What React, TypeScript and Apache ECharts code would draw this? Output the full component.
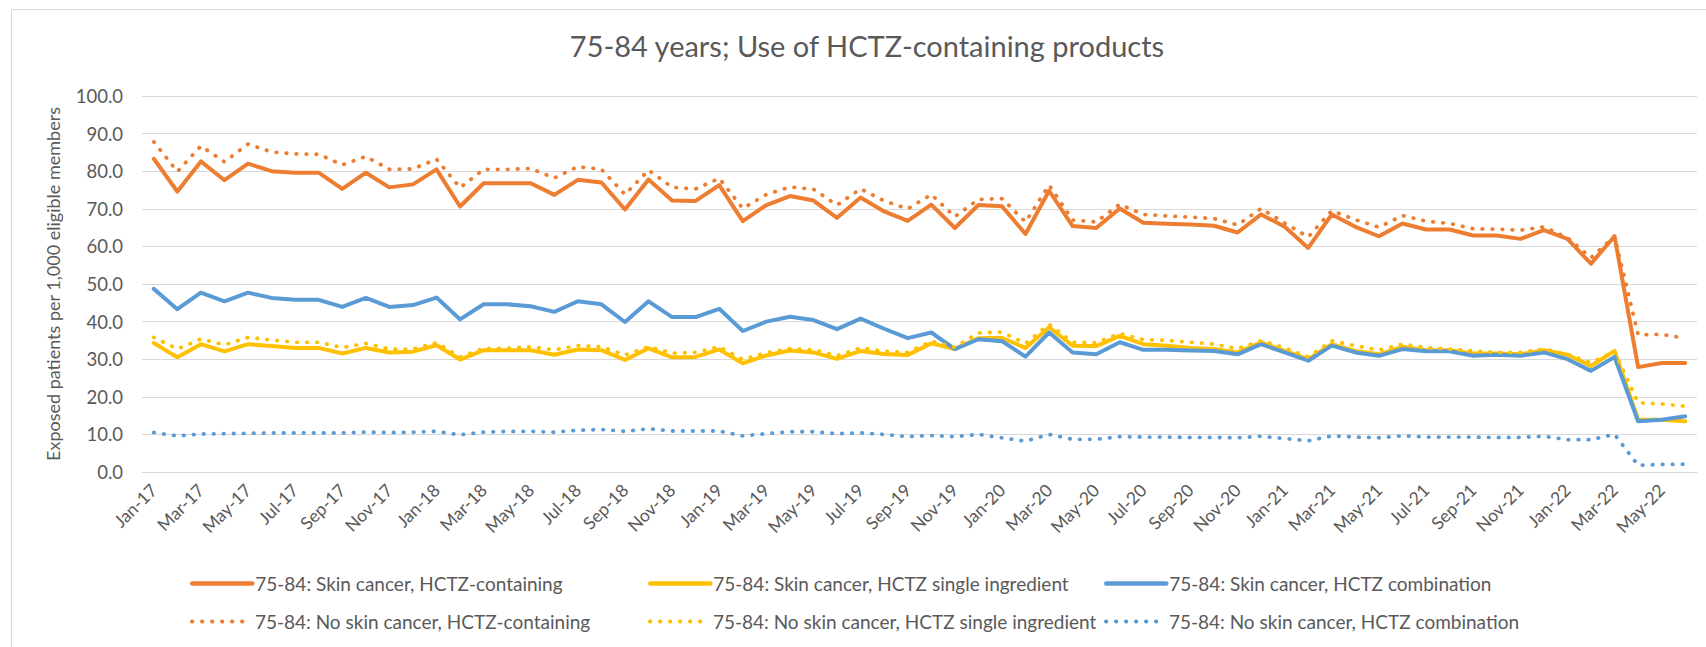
import React, { useEffect, useRef } from "react";
import * as echarts from "echarts";

const months = [
  "Jan-17", "Feb-17", "Mar-17", "Apr-17", "May-17", "Jun-17", "Jul-17", "Aug-17", "Sep-17", "Oct-17", "Nov-17", "Dec-17",
  "Jan-18", "Feb-18", "Mar-18", "Apr-18", "May-18", "Jun-18", "Jul-18", "Aug-18", "Sep-18", "Oct-18", "Nov-18", "Dec-18",
  "Jan-19", "Feb-19", "Mar-19", "Apr-19", "May-19", "Jun-19", "Jul-19", "Aug-19", "Sep-19", "Oct-19", "Nov-19", "Dec-19",
  "Jan-20", "Feb-20", "Mar-20", "Apr-20", "May-20", "Jun-20", "Jul-20", "Aug-20", "Sep-20", "Oct-20", "Nov-20", "Dec-20",
  "Jan-21", "Feb-21", "Mar-21", "Apr-21", "May-21", "Jun-21", "Jul-21", "Aug-21", "Sep-21", "Oct-21", "Nov-21", "Dec-21",
  "Jan-22", "Feb-22", "Mar-22", "Apr-22", "May-22", "Jun-22",
];

const skinContaining = [
  83.3, 74.6, 82.6, 77.6, 82.0, 80.0, 79.6, 79.6, 75.3, 79.6,
  75.7, 76.5, 80.5, 70.6, 76.8, 76.8, 76.8, 73.7, 77.7, 77.0,
  69.8, 77.8, 72.2, 72.1, 76.3, 66.7, 71.0, 73.4, 72.2, 67.6,
  73.0, 69.3, 66.8, 71.1, 64.9, 71.0, 70.7, 63.3, 74.8, 65.4,
  64.9, 70.1, 66.3, 66.0, 65.8, 65.5, 63.7, 68.5, 65.2, 59.6,
  68.5, 65.2, 62.7, 66.1, 64.5, 64.5, 62.9, 62.9, 62.0, 64.3,
  62.0, 55.4, 62.7, 27.9, 29.0, 29.0,
];

const skinSingle = [
  34.3, 30.5, 34.0, 32.1, 34.0, 33.5, 33.0, 33.0, 31.5, 33.0,
  31.8, 32.0, 33.7, 29.9, 32.4, 32.4, 32.4, 31.2, 32.6, 32.4,
  29.8, 32.9, 30.5, 30.6, 32.6, 28.9, 31.0, 32.3, 31.8, 30.1,
  32.2, 31.4, 31.1, 34.2, 32.7, 35.6, 35.7, 33.0, 38.5, 33.6,
  33.5, 36.2, 34.0, 33.6, 33.0, 32.7, 31.8, 34.5, 32.2, 30.0,
  34.0, 32.2, 31.3, 33.3, 32.4, 32.4, 31.5, 31.5, 31.3, 32.4,
  31.2, 28.2, 32.2, 13.9, 13.9, 13.5,
];

const skinCombo = [
  48.7, 43.3, 47.7, 45.4, 47.7, 46.3, 45.8, 45.8, 43.9, 46.3,
  43.9, 44.4, 46.4, 40.6, 44.6, 44.6, 44.1, 42.6, 45.4, 44.6,
  39.9, 45.4, 41.2, 41.2, 43.4, 37.5, 40.0, 41.3, 40.4, 38.0,
  40.8, 38.1, 35.6, 37.1, 32.7, 35.3, 34.8, 30.7, 37.1, 31.8,
  31.3, 34.5, 32.5, 32.5, 32.3, 32.2, 31.3, 34.0, 31.8, 29.6,
  33.6, 31.8, 30.9, 32.7, 32.1, 32.1, 30.9, 31.2, 30.9, 31.8,
  30.0, 26.9, 30.6, 13.5, 13.9, 14.8,
];

const noSkinContaining = [
  87.8, 79.9, 86.7, 82.5, 87.2, 85.1, 84.6, 84.5, 81.7, 83.9,
  80.5, 80.6, 83.2, 75.6, 80.5, 80.5, 80.7, 78.2, 81.2, 80.5,
  73.8, 80.3, 75.7, 75.3, 78.1, 70.1, 73.8, 75.8, 75.2, 71.0,
  75.3, 72.1, 70.0, 73.8, 67.9, 72.5, 72.7, 66.5, 76.3, 67.0,
  66.5, 71.2, 68.5, 68.1, 67.8, 67.4, 65.7, 70.1, 66.2, 62.5,
  69.5, 67.1, 65.1, 68.2, 66.7, 66.1, 64.7, 64.6, 64.3, 65.2,
  62.3, 57.0, 62.7, 36.5, 36.6, 35.6,
];

const noSkinSingle = [
  35.8, 32.7, 35.4, 33.8, 35.8, 35.1, 34.5, 34.5, 33.1, 34.2,
  32.7, 32.7, 34.4, 30.6, 32.9, 32.9, 33.3, 32.5, 33.6, 33.3,
  31.1, 33.3, 31.6, 31.8, 33.3, 29.9, 31.7, 32.8, 32.5, 30.9,
  33.0, 32.1, 31.8, 34.8, 33.2, 37.0, 37.2, 34.2, 39.3, 34.5,
  34.4, 36.8, 35.2, 35.0, 34.5, 34.0, 32.8, 34.9, 33.0, 30.6,
  34.9, 33.6, 32.4, 34.0, 33.1, 32.7, 32.2, 31.8, 31.8, 32.7,
  31.3, 29.1, 32.0, 18.4, 18.1, 17.5,
];

const noSkinCombo = [
  10.5, 9.6, 10.1, 10.2, 10.3, 10.4, 10.4, 10.4, 10.4, 10.6,
  10.5, 10.6, 10.8, 9.9, 10.6, 10.8, 10.8, 10.6, 11.1, 11.3,
  10.8, 11.5, 10.9, 10.9, 10.9, 9.6, 10.2, 10.7, 10.7, 10.2,
  10.4, 10.0, 9.4, 9.7, 9.4, 10.0, 9.1, 8.2, 10.0, 8.7,
  8.7, 9.4, 9.3, 9.3, 9.2, 9.2, 9.1, 9.5, 8.9, 8.3,
  9.6, 9.3, 9.1, 9.6, 9.3, 9.3, 9.3, 9.2, 9.2, 9.5,
  8.6, 8.6, 10.0, 1.8, 2.0, 2.1,
];

const seriesNames = [
  "75-84: Skin cancer, HCTZ-containing",
  "75-84: Skin cancer, HCTZ single ingredient",
  "75-84: Skin cancer, HCTZ combination",
  "75-84: No skin cancer, HCTZ-containing",
  "75-84: No skin cancer, HCTZ single ingredient",
  "75-84: No skin cancer, HCTZ combination",
];

const ORANGE = "#ED7D31";
const YELLOW = "#FFC000";
const BLUE = "#5B9BD5";
const GREY = "#595959";
const GRID = "#D9D9D9";
const FONT = "Lato";

export default function App() {
  const ref = useRef<HTMLDivElement>(null);

  useEffect(() => {
    document.body.style.margin = "0";
    const chart = echarts.init(ref.current!, null, { renderer: "svg" });

    const solid = (color: string) => ({
      color,
      width: 4,
      type: "solid",
      cap: "round",
      join: "round",
    });
    const dotted = (color: string) => ({
      color,
      width: 3.8,
      type: [0.5, 9.5],
      cap: "round",
      join: "round",
    });

    const mk = (name: string, data: number[], color: string, style: any) => ({
      name,
      type: "line",
      data,
      symbol: "none",
      color,
      lineStyle: style,
      emphasis: { disabled: true },
    });

    const legendPos = [
      { left: 190, top: 574 },
      { left: 648, top: 574 },
      { left: 1104, top: 574 },
      { left: 190, top: 612 },
      { left: 648, top: 612 },
      { left: 1104, top: 612 },
    ];

    chart.setOption({
      animation: false,
      textStyle: { fontFamily: FONT },
      title: {
        text: "75-84 years; Use of HCTZ-containing products",
        left: 867,
        top: 31,
        textAlign: "center",
        padding: 0,
        textStyle: { color: GREY, fontSize: 29, fontWeight: "normal", fontFamily: FONT },
      },
      graphic: [
        {
          type: "rect",
          shape: { x: 11.5, y: 9.5, width: 1720, height: 680 },
          style: { fill: "none", stroke: GRID, lineWidth: 1 },
          silent: true,
        },
      ],
      legend: seriesNames.map((n, i) => ({
        data: [n],
        left: legendPos[i].left,
        top: legendPos[i].top,
        padding: 0,
        itemWidth: 60,
        itemHeight: 20,
        itemGap: 0,
        selectedMode: false,
        itemStyle: { opacity: 0, color: "transparent", borderColor: "transparent", borderWidth: 0 },
        lineStyle: { width: i < 3 ? 4.5 : 3.8 },
        textStyle: { color: GREY, fontSize: 19, fontFamily: FONT, padding: [0, 0, 0, -2] },
      })),
      grid: { left: 142, right: 9, top: 96, bottom: 175, containLabel: false },
      xAxis: {
        type: "category",
        data: months,
        boundaryGap: true,
        axisTick: { show: false },
        axisLine: { lineStyle: { color: GRID, width: 1 } },
        axisLabel: { interval: 1, rotate: 45, color: GREY, fontSize: 17.5, margin: 15, fontFamily: FONT },
        splitLine: { show: false },
      },
      yAxis: {
        type: "value",
        min: 0,
        max: 100,
        interval: 10,
        axisLine: { show: false },
        axisTick: { show: false },
        axisLabel: {
          color: GREY,
          fontSize: 18.5,
          margin: 19,
          fontFamily: FONT,
          formatter: (v: number) => v.toFixed(1),
        },
        splitLine: { lineStyle: { color: GRID, width: 1 } },
        name: "Exposed patients per 1,000 eligible members",
        nameLocation: "middle",
        nameGap: 80,
        nameTextStyle: { color: GREY, fontSize: 18, fontFamily: FONT },
      },
      series: [
        mk(seriesNames[0], skinContaining, ORANGE, solid(ORANGE)),
        mk(seriesNames[1], skinSingle, YELLOW, solid(YELLOW)),
        mk(seriesNames[2], skinCombo, BLUE, solid(BLUE)),
        mk(seriesNames[3], noSkinContaining, ORANGE, dotted(ORANGE)),
        mk(seriesNames[4], noSkinSingle, YELLOW, dotted(YELLOW)),
        mk(seriesNames[5], noSkinCombo, BLUE, dotted(BLUE)),
      ],
    });

    return () => chart.dispose();
  }, []);

  return <div ref={ref} style={{ width: 1706, height: 647 }} />;
}
